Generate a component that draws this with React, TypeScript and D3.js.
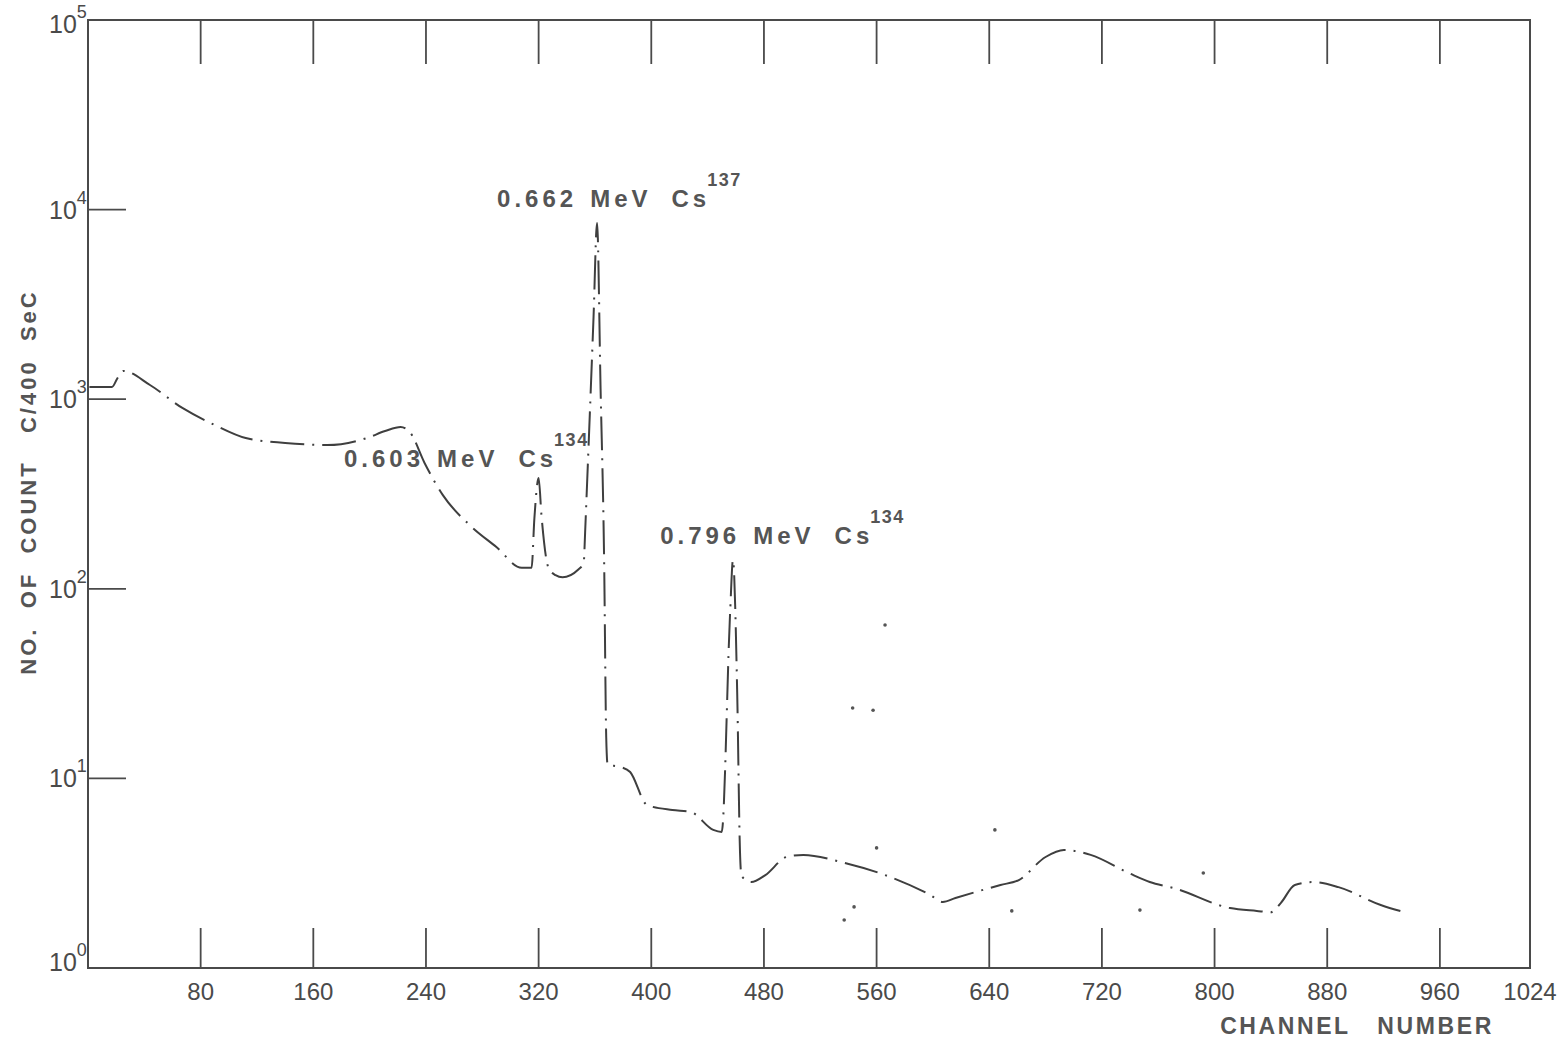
import React from "react";
import * as d3 from "d3";

// Spectrum trace (channel, counts per 400 s)
const channels = [1, 17, 21, 25, 44, 67, 90, 112, 140, 170, 198, 211, 222, 229, 239, 252, 271, 290, 308, 315, 317, 320, 322, 327, 332, 337, 348, 352, 353, 354, 359, 361.5, 364, 366.5, 368, 369, 378, 385, 397, 415, 428, 444, 450, 456, 458, 461, 463, 464, 471, 481, 496, 508, 535, 564, 598, 607, 616, 648, 661, 680, 693, 712, 739, 754, 771, 811, 830, 840, 847, 857, 870, 888, 918, 937];
const counts = [1159, 1159, 1294, 1409, 1188, 899, 731, 624, 588, 573, 624, 679, 713, 663, 461, 312, 217, 166, 129, 129, 236, 384, 245, 129, 118, 115, 126, 137, 197, 301, 2715, 8500, 1132, 144, 16.5, 11.8, 11.5, 10.8, 7.24, 6.81, 6.65, 5.35, 5.22, 75.5, 142, 28.6, 4.09, 3.06, 2.84, 3.09, 3.85, 3.95, 3.62, 3.13, 2.43, 2.23, 2.34, 2.74, 2.91, 3.85, 4.19, 3.95, 3.17, 2.84, 2.64, 2.07, 2.0, 1.97, 2.2, 2.74, 2.84, 2.67, 2.15, 1.95];

// Isolated plotted dots
const strayChannels = [537, 544, 560, 566, 543, 557.5, 644, 656, 747, 792];
const strayCounts = [1.79, 2.1, 4.3, 64.4, 23.5, 22.9, 5.35, 2.0, 2.02, 3.17];

// Axis ticks
const xTicks = [80, 160, 240, 320, 400, 480, 560, 640, 720, 800, 880, 960];
const xTickLabels = ["80", "160", "240", "320", "400", "480", "560", "640", "720", "800", "880", "960", "1024"];
const xLabelValues = [80, 160, 240, 320, 400, 480, 560, 640, 720, 800, 880, 960, 1024];
const yDecades = [0, 1, 2, 3, 4, 5];

// Peak annotations (anchor in data units)
const annotEnergies = ["0.662", "0.603", "0.796"];
const annotIsotopes = ["137", "134", "134"];
const annotChannels = [290.5, 181.8, 406.3];
const annotCounts = [10300, 440, 172];

const W = 1561;
const H = 1039;
const INK = "#4a4a4a";
const FONT = "'Liberation Sans', Arial, Helvetica, sans-serif";

export default function App() {
  const x = d3.scaleLinear().domain([0, 1024]).range([88, 1530]);
  const y = d3.scaleLog().domain([1, 1e5]).range([968, 20]);
  const pts = channels.map((c, i) => [c, counts[i]] as [number, number]);
  const line = d3
    .line<[number, number]>()
    .x((d) => x(d[0]))
    .y((d) => y(d[1]))
    .curve(d3.curveMonotoneX);

  const [x0, x1] = x.range();
  const [yb, yt] = y.range();

  return (
    <div style={{ position: "absolute", left: 0, top: 0 }}>
      <svg width={W} height={H} style={{ display: "block", background: "#fff" }} fontFamily={FONT}>
        {/* frame */}
        <rect x={x0} y={yt} width={x1 - x0} height={yb - yt} fill="none" stroke={INK} strokeWidth={2} />
        {/* bottom ticks */}
        {xTicks.map((t) => (
          <line key={"b" + t} x1={x(t)} x2={x(t)} y1={yb} y2={yb - 40} stroke={INK} strokeWidth={1.8} />
        ))}
        {/* top ticks */}
        {xTicks.map((t) => (
          <line key={"t" + t} x1={x(t)} x2={x(t)} y1={yt} y2={yt + 44} stroke={INK} strokeWidth={1.8} />
        ))}
        {/* left ticks */}
        {yDecades.slice(1, 5).map((e) => (
          <line key={"l" + e} x1={x0} x2={x0 + 38} y1={y(Math.pow(10, e))} y2={y(Math.pow(10, e))} stroke={INK} strokeWidth={1.8} />
        ))}
        {/* x tick labels */}
        {xLabelValues.map((v, i) => (
          <text key={"xl" + v} x={x(v)} y={yb + 32} textAnchor="middle" fontSize={24} fill="#4a4a4a">
            {xTickLabels[i]}
          </text>
        ))}
        {/* y tick labels */}
        {yDecades.map((e) => (
          <text key={"yl" + e} x={49} y={y(Math.pow(10, e)) + 9 - (e === 0 ? 6 : 0) + (e === 5 ? 4 : 0)} fontSize={25} fill="#4a4a4a">
            10
            <tspan dy={-15} fontSize={18}>
              {String(e)}
            </tspan>
          </text>
        ))}
        {/* axis titles */}
        <text
          transform={`translate(36,${(yb + yt) / 2 - 12}) rotate(-90)`}
          textAnchor="middle"
          fontSize={22}
          fontWeight="bold"
          letterSpacing={3}
          fill="#555"
          style={{ whiteSpace: "pre" }}
        >
          {"NO.  OF  COUNT   C/400  SeC"}
        </text>
        <text
          x={1357}
          y={1034}
          textAnchor="middle"
          fontSize={23}
          fontWeight="bold"
          letterSpacing={2.6}
          fill="#555"
          style={{ whiteSpace: "pre" }}
        >
          {"CHANNEL   NUMBER"}
        </text>
        {/* spectrum */}
        <path d={line(pts) || ""} fill="none" stroke="#3f3f3f" strokeWidth={2} strokeDasharray="34 8 2 8" />
        {strayChannels.map((c, i) => (
          <circle key={"s" + i} cx={x(c)} cy={y(strayCounts[i])} r={1.8} fill="#555" />
        ))}
        {/* annotations */}
        {annotEnergies.map((en, i) => (
          <text
            key={"a" + i}
            x={x(annotChannels[i])}
            y={y(annotCounts[i])}
            fontSize={24}
            fontWeight="bold"
            letterSpacing={4}
            fill="#555"
          >
            <tspan>{en}</tspan>
            <tspan dx={13}>MeV</tspan>
            <tspan dx={20}>Cs</tspan>
            <tspan dx={-3} dy={-21} fontSize={18} letterSpacing={1.5}>
              {annotIsotopes[i]}
            </tspan>
          </text>
        ))}
      </svg>
    </div>
  );
}
